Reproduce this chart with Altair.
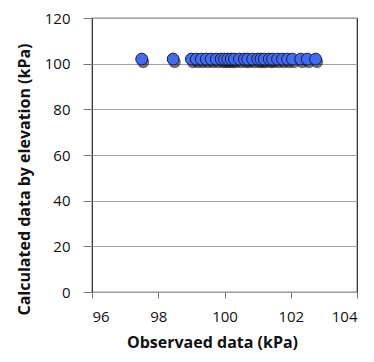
import altair as alt
import pandas as pd

obs = [97.5, 98.45, 99.0, 99.15, 99.3, 99.45, 99.6, 99.75, 99.9, 100.0, 100.1,
       100.2, 100.3, 100.45, 100.6, 100.7, 100.85, 101.0, 101.1, 101.2, 101.35,
       101.45, 101.6, 101.75, 101.9, 102.05, 102.3, 102.5, 102.75]
calc = [102.0] * len(obs)

df = pd.DataFrame({"obs": obs, "calc": calc})

font = "Open Sans"
x = alt.X("obs:Q", scale=alt.Scale(domain=[96, 104], nice=False),
          axis=alt.Axis(values=[96, 98, 100, 102, 104], title="Observaed data (kPa)",
                        grid=False, domain=False, tickColor="#777", tickSize=6,
                        labelFontSize=15, labelColor="#111", labelPadding=11,
                        titleFontSize=16, titleFontWeight="bold", titleColor="#111",
                        titlePadding=10, titleX=120, labelFont=font, titleFont=font))
y = alt.Y("calc:Q", scale=alt.Scale(domain=[0, 120], nice=False),
          axis=alt.Axis(values=[0, 20, 40, 60, 80, 100, 120],
                        title="Calculated data by elevation (kPa)",
                        grid=True, gridColor="#a0a0a0", domain=False, tickColor="#777",
                        tickSize=9, labelFontSize=15, labelColor="#111", labelPadding=13,
                        titleFontSize=16, titleFontWeight="bold", titleColor="#111",
                        titlePadding=12, titleY=161, labelFont=font, titleFont=font))

shadow = alt.Chart(df).mark_circle(size=150, color="black", opacity=0.55,
                                   xOffset=1.5, yOffset=3).encode(x=x, y=y)
pts = alt.Chart(df).mark_point(filled=True, size=140, fill="#3f6cf0",
                               stroke="#1a1a40", strokeWidth=1, opacity=1).encode(x=x, y=y)

chart = (shadow + pts).properties(
    width=265, height=274,
    autosize=alt.AutoSizeParams(type="none"),
    padding={"left": 84, "top": 10, "right": 8, "bottom": 62},
).configure_view(stroke="#222", strokeWidth=1.2)

chart.save("out.html", embed_options={"renderer": "svg", "actions": False})
